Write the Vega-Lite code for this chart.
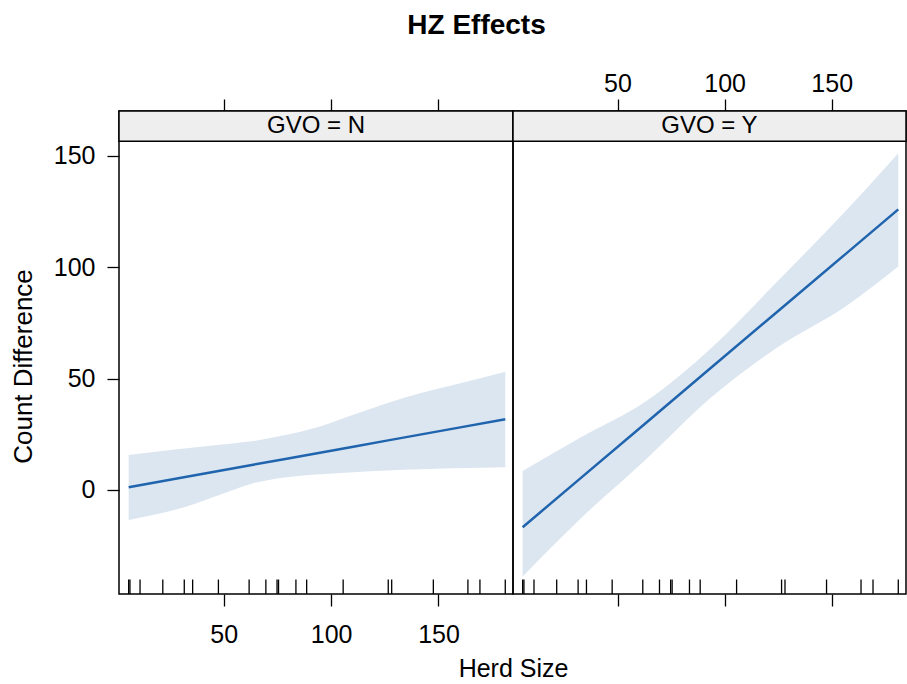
{
  "$schema": "https://vega.github.io/schema/vega-lite/v6.json",
  "background": "white",
  "padding": {"left": 9, "top": 12, "right": 0, "bottom": 0},
  "title": {"text": "HZ Effects", "font": "Liberation Sans", "fontSize": 28, "fontWeight": "bold", "color": "black", "anchor": "middle", "offset": 30, "dx": 18},
  "spacing": 0,
  "bounds": "flush",
  "datasets": {
    "curveN": [
      {"x": 5.7, "fit": 1.2, "lo": -13.5, "hi": 15.7},
      {"x": 32.7, "fit": 5.9, "lo": -7.5, "hi": 18.7},
      {"x": 48.2, "fit": 8.6, "lo": -2.2, "hi": 20.2},
      {"x": 63.7, "fit": 11.3, "lo": 3.0, "hi": 21.9},
      {"x": 79.3, "fit": 14.0, "lo": 5.7, "hi": 24.7},
      {"x": 94.8, "fit": 16.7, "lo": 7.0, "hi": 28.4},
      {"x": 110.3, "fit": 19.4, "lo": 7.9, "hi": 33.7},
      {"x": 125.9, "fit": 22.1, "lo": 8.7, "hi": 38.9},
      {"x": 141.4, "fit": 24.8, "lo": 9.2, "hi": 43.4},
      {"x": 156.9, "fit": 27.5, "lo": 9.7, "hi": 47.1},
      {"x": 181.1, "fit": 31.7, "lo": 10.2, "hi": 53.1}
    ],
    "curveY": [
      {"x": 5.7, "fit": -16.8, "lo": -38.9, "hi": 8.5},
      {"x": 32.1, "fit": 4.7, "lo": -13.5, "hi": 23.2},
      {"x": 63.1, "fit": 29.9, "lo": 13.5, "hi": 39.7},
      {"x": 94.2, "fit": 55.3, "lo": 41.9, "hi": 64.1},
      {"x": 125.3, "fit": 80.6, "lo": 64.4, "hi": 94.3},
      {"x": 156.3, "fit": 105.8, "lo": 82.3, "hi": 125.0},
      {"x": 181.1, "fit": 126.0, "lo": 100.3, "hi": 151.2}
    ],
    "rug": [
      {"x": 5.7}, {"x": 6.3}, {"x": 11.0}, {"x": 21.6}, {"x": 31.6}, {"x": 35.5}, {"x": 47.5},
      {"x": 61.8}, {"x": 69.6}, {"x": 74.8}, {"x": 75.5}, {"x": 83.6}, {"x": 88.6}, {"x": 105.6},
      {"x": 126.6}, {"x": 128.2}, {"x": 147.6}, {"x": 163.7}, {"x": 169.3}, {"x": 181.1}
    ]
  },
  "hconcat": [
    {
      "width": 394,
      "height": 483,
      "resolve": {"axis": {"x": "independent", "y": "independent"}},
      "layer": [
        {
          "data": {"name": "curveN"},
          "mark": {"type": "area", "color": "#dce6f1", "opacity": 1, "interpolate": "monotone"},
          "encoding": {
            "x": {"field": "x", "type": "quantitative", "scale": {"domain": [1.2, 184.7], "nice": false, "zero": false},
                  "axis": {"orient": "bottom", "values": [50, 100, 150], "title": "Herd Size", "titleX": 394, "titlePadding": 9, "labelPadding": 16}},
            "y": {"field": "lo", "type": "quantitative", "scale": {"domain": [-46.8, 170.2], "nice": false, "zero": false},
                  "axis": {"values": [0, 50, 100, 150], "title": "Count Difference", "titleY": 255, "titlePadding": 17, "labelPadding": 12, "titleFontSize": 26}},
            "y2": {"field": "hi"}
          }
        },
        {
          "data": {"name": "curveN"},
          "mark": {"type": "line", "color": "#1f64ad", "strokeWidth": 2.5},
          "encoding": {
            "x": {"field": "x", "type": "quantitative", "axis": {"orient": "top", "values": [50, 100, 150], "labels": false, "title": null}},
            "y": {"field": "fit", "type": "quantitative", "axis": null}
          }
        },
        {
          "data": {"name": "rug"},
          "mark": {"type": "rule", "color": "black", "strokeWidth": 1.3},
          "encoding": {
            "x": {"field": "x", "type": "quantitative", "axis": null},
            "y": {"datum": -46.8, "axis": null},
            "y2": {"datum": -40.3}
          }
        },
        {
          "data": {"values": [{"label": "GVO = N"}]},
          "mark": {"type": "rect", "fill": "#eeeeee", "stroke": "black", "strokeWidth": 1.5},
          "encoding": {
            "x": {"datum": 1.2, "axis": null},
            "x2": {"datum": 184.7},
            "y": {"datum": 156.6, "axis": null},
            "y2": {"datum": 170.2}
          }
        },
        {
          "data": {"values": [{"label": "GVO = N"}]},
          "mark": {"type": "text", "font": "Liberation Sans", "fontSize": 24, "color": "black", "baseline": "middle"},
          "encoding": {
            "x": {"datum": 92.95, "axis": null},
            "y": {"datum": 163.4, "axis": null},
            "text": {"field": "label"}
          }
        }
      ]
    },
    {
      "width": 393,
      "height": 483,
      "resolve": {"axis": {"x": "independent", "y": "independent"}},
      "layer": [
        {
          "data": {"name": "curveY"},
          "mark": {"type": "area", "color": "#dce6f1", "opacity": 1, "interpolate": "monotone"},
          "encoding": {
            "x": {"field": "x", "type": "quantitative", "scale": {"domain": [1.2, 184.7], "nice": false, "zero": false},
                  "axis": {"orient": "bottom", "values": [50, 100, 150], "labels": false, "title": null}},
            "y": {"field": "lo", "type": "quantitative", "scale": {"domain": [-46.8, 170.2], "nice": false, "zero": false}, "axis": null},
            "y2": {"field": "hi"}
          }
        },
        {
          "data": {"name": "curveY"},
          "mark": {"type": "line", "color": "#1f64ad", "strokeWidth": 2.5},
          "encoding": {
            "x": {"field": "x", "type": "quantitative", "axis": {"orient": "top", "values": [50, 100, 150], "title": null, "labelPadding": 3}},
            "y": {"field": "fit", "type": "quantitative", "axis": null}
          }
        },
        {
          "data": {"name": "rug"},
          "mark": {"type": "rule", "color": "black", "strokeWidth": 1.3},
          "encoding": {
            "x": {"field": "x", "type": "quantitative", "axis": null},
            "y": {"datum": -46.8, "axis": null},
            "y2": {"datum": -40.3}
          }
        },
        {
          "data": {"values": [{"label": "GVO = Y"}]},
          "mark": {"type": "rect", "fill": "#eeeeee", "stroke": "black", "strokeWidth": 1.5},
          "encoding": {
            "x": {"datum": 1.2, "axis": null},
            "x2": {"datum": 184.7},
            "y": {"datum": 156.6, "axis": null},
            "y2": {"datum": 170.2}
          }
        },
        {
          "data": {"values": [{"label": "GVO = Y"}]},
          "mark": {"type": "text", "font": "Liberation Sans", "fontSize": 24, "color": "black", "baseline": "middle"},
          "encoding": {
            "x": {"datum": 92.95, "axis": null},
            "y": {"datum": 163.4, "axis": null},
            "text": {"field": "label"}
          }
        }
      ]
    }
  ],
  "config": {
    "view": {"stroke": "black", "strokeWidth": 1.5},
    "axis": {"domain": false, "grid": false, "tickColor": "black", "tickSize": 12, "tickWidth": 1.3,
             "labelFont": "Liberation Sans", "labelFontSize": 25, "labelColor": "black",
             "titleFont": "Liberation Sans", "titleFontSize": 25, "titleFontWeight": "normal", "titleColor": "black"}
  }
}
